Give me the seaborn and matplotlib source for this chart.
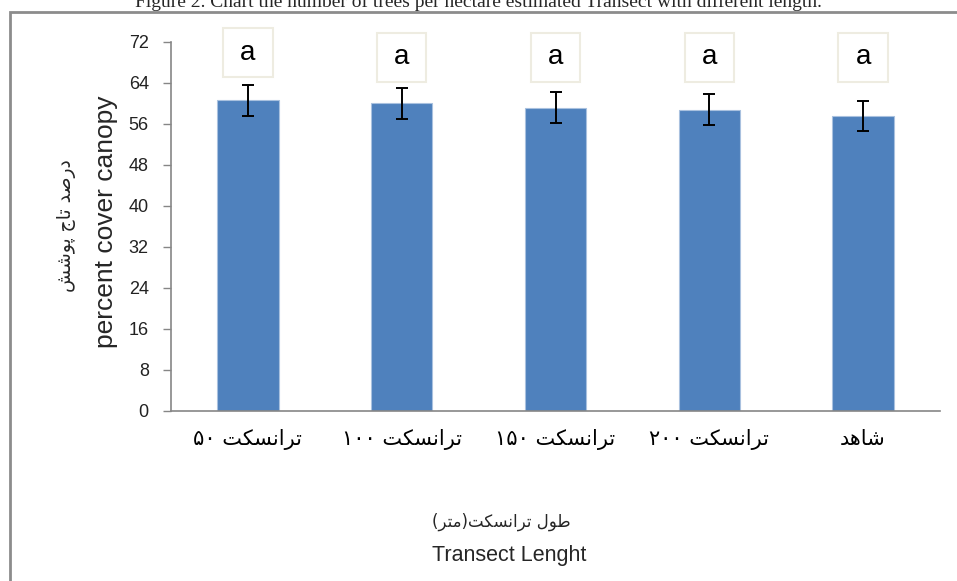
import re
import numpy as np
import pandas as pd
import seaborn as sns
import matplotlib.pyplot as plt
from matplotlib.patches import Rectangle

# Data
categories = ["ترانسکت ۵۰", "ترانسکت ۱۰۰", "ترانسکت ۱۵۰", "ترانسکت ۲۰۰", "شاهد"]
canopy = [60.6, 60.0, 59.2, 58.8, 57.6]
errors = [3.0, 3.0, 3.0, 3.0, 2.9]
letters = ["a", "a", "a", "a", "a"]
yticks = [0, 8, 16, 24, 32, 40, 48, 56, 64, 72]

# Arabic presentation forms (isolated, final, initial, medial) - matplotlib has no shaping
FORMS = {
    'ا': ('\ufe8d', '\ufe8e', None, None),
    'د': ('\ufea9', '\ufeaa', None, None),
    'ر': ('\ufead', '\ufeae', None, None),
    'و': ('\ufeed', '\ufeee', None, None),
    'ت': ('\ufe95', '\ufe96', '\ufe97', '\ufe98'),
    'ن': ('\ufee5', '\ufee6', '\ufee7', '\ufee8'),
    'س': ('\ufeb1', '\ufeb2', '\ufeb3', '\ufeb4'),
    'ش': ('\ufeb5', '\ufeb6', '\ufeb7', '\ufeb8'),
    'ه': ('\ufee9', '\ufeea', '\ufeeb', '\ufeec'),
    'ط': ('\ufec1', '\ufec2', '\ufec3', '\ufec4'),
    'ل': ('\ufedd', '\ufede', '\ufedf', '\ufee0'),
    'م': ('\ufee1', '\ufee2', '\ufee3', '\ufee4'),
    'ص': ('\ufeb9', '\ufeba', '\ufebb', '\ufebc'),
    'ج': ('\ufe9d', '\ufe9e', '\ufe9f', '\ufea0'),
    'پ': ('\ufb56', '\ufb57', '\ufb58', '\ufb59'),
    'ک': ('\ufb8e', '\ufb8f', '\ufb90', '\ufb91'),
}


def fa(text):
    out = []
    for i, ch in enumerate(text):
        if ch not in FORMS:
            out.append(ch)
            continue
        iso, fin, ini, med = FORMS[ch]
        prev = text[i - 1] if i > 0 else ''
        nxt = text[i + 1] if i + 1 < len(text) else ''
        jp = prev in FORMS and FORMS[prev][2] is not None
        jn = nxt in FORMS and ini is not None
        if jp and jn:
            out.append(med)
        elif jp:
            out.append(fin)
        elif jn:
            out.append(ini)
        else:
            out.append(iso)
    s = ''.join(reversed(out))
    s = s.translate(str.maketrans('()', ')('))
    s = re.sub('[۰-۹0-9]+', lambda m: m.group(0)[::-1], s)
    return s


df = pd.DataFrame({"cat": [fa(c) for c in categories], "canopy": canopy})

sns.set_theme(style="white")
plt.rcParams['font.family'] = ['Liberation Sans', 'DejaVu Sans']

fig = plt.figure(figsize=(9.57, 5.81), dpi=100)
ax = fig.add_axes([171 / 957, 1 - 410.5 / 581, 769 / 957, 368.5 / 581])

sns.barplot(data=df, x="cat", y="canopy", color="#4F81BD", saturation=1,
            width=0.4, edgecolor="#A9C1DF", linewidth=0.8, ax=ax)
ax.errorbar(np.arange(len(canopy)), canopy, yerr=errors, fmt="none",
            ecolor="black", elinewidth=1.4, capsize=4.5, capthick=1.4, zorder=5)

ax.set_xlim(-0.5, len(categories) - 0.5)
ax.set_ylim(0, 72)
ax.set_yticks(yticks)
ax.set_yticklabels([str(t) for t in yticks], fontsize=13, color="#222222")

# category boundaries carry the tick marks, labels sit at centres
ax.set_xticks(np.arange(len(categories) + 1) - 0.5)
ax.set_xticklabels([])
ax.set_xticks(np.arange(len(categories)), minor=True)
ax.set_xticklabels(df["cat"], minor=True, fontsize=15, family="DejaVu Sans", color="black")
ax.tick_params(axis="x", which="major", length=5, width=1, color="#868686", direction="out")
ax.tick_params(axis="x", which="minor", length=0, pad=13)
ax.tick_params(axis="y", length=6, width=1, color="#868686", direction="out", pad=10, left=True)
ax.set_xlabel("")
ax.set_ylabel("")

for side in ["bottom", "left"]:
    ax.spines[side].set_color("#868686")
    ax.spines[side].set_linewidth(1.2)
ax.spines["top"].set_visible(False)
ax.spines["right"].set_visible(False)

# significance letters in small boxes above the bars
for i, lab in enumerate(letters):
    ytop = 73.8 if i > 0 else 74.7
    ax.add_patch(Rectangle((i - 0.16, ytop - 9.6), 0.32, 9.6, facecolor="white",
                           edgecolor="#EEECE1", linewidth=1.5, clip_on=False, zorder=6))
    ax.text(i, ytop - 4.8, lab, ha="center", va="center", fontsize=20,
            clip_on=False, zorder=7, color="black")

# axis titles
fig.text(67 / 957, 1 - 226 / 581, fa("درصد تاج پوشش"), rotation=90, ha="center",
         va="center", fontsize=13.5, family="DejaVu Sans")
fig.text(106 / 957, 1 - 222 / 581, "percent cover canopy", rotation=90, ha="center",
         va="center", fontsize=19)
fig.text(501 / 957, 1 - 522 / 581, fa("طول ترانسکت(متر)"), ha="center",
         va="center", fontsize=12, family="DejaVu Sans")
fig.text(509 / 957, 1 - 555 / 581, "Transect Lenght", ha="center", va="center",
         fontsize=15.5)

# caption, partly cut off at the top (as in the source figure)
fig.text(478 / 957, 1 - 7 / 581, "Figure 2. Chart the number of trees per hectare estimated Transect with different length.",
         ha="center", va="baseline", fontsize=14, family="Liberation Serif")

# outer chart frame
fig.add_artist(Rectangle((10 / 957, -0.05), 1.0, 1 - 12.5 / 581 + 0.05,
                         transform=fig.transFigure, facecolor="none",
                         edgecolor="#8C8C8C", linewidth=2))

fig.savefig("out.png", dpi=100)
